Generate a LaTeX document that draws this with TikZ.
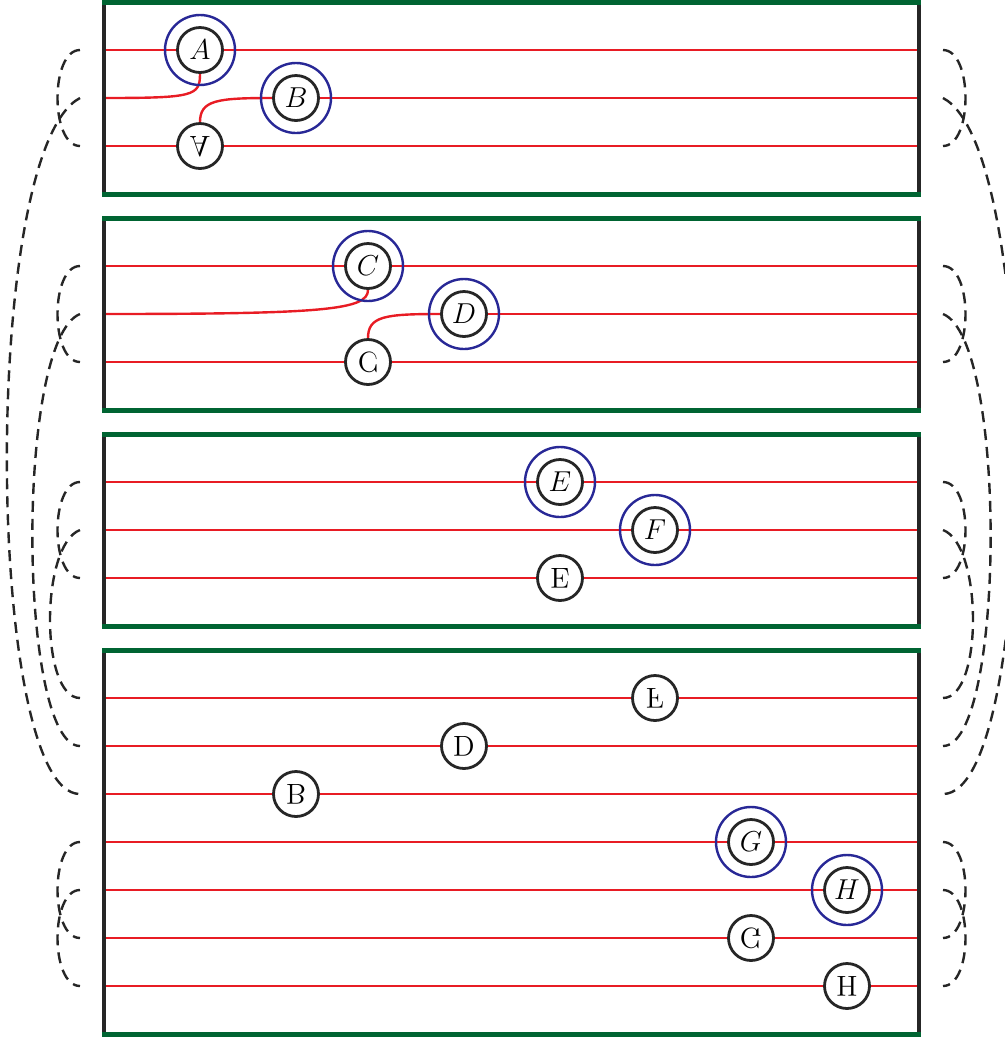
\documentclass[tikz,border=0pt]{standalone}
\usepackage{graphicx}
\usepackage{tikz}
\usetikzlibrary{backgrounds}

\definecolor{lanered}{RGB}{232,28,36}
\definecolor{rimgreen}{RGB}{0,100,50}
\definecolor{ringblue}{RGB}{40,40,150}

% lettera capovolta (coniugata)
\newcommand{\flipped}[1]{\scalebox{1}[-1]{$\mathrm{#1}$}}

\begin{document}
\begin{tikzpicture}[x=0.5pt, y=-0.5pt]

	\tikzset{
		lane/.style={
			lanered,
			line width=1.2pt
		},
		rim/.style={
			rimgreen,
			line width=2.5pt
		},
		side/.style={
			black!85,
			line width=1.6pt
		},
		closure/.style={
			black!85,
			line width=1.2pt,
			dash pattern=on 5.5pt off 3.5pt
		},
		qubit/.style={
			circle,
			draw=black!85,
			line width=1.4pt,
			fill=white,
			minimum size=22.5pt,
			inner sep=0pt,
			font=\fontsize{14.4}{17}\selectfont
		},
		ring/.style={
			circle,
			draw=ringblue,
			line width=1.2pt,
			minimum size=35pt,
			inner sep=0pt
		}
	}

	\useasboundingbox (0,0) rectangle (1005,1040);
	\clip (0,0) rectangle (1005,1040);

	% Estremi delle linee (ovest / est)
	\coordinate (w1)  at (104,50);  \coordinate (e1)  at (919,50);
	\coordinate (w2)  at (104,98);  \coordinate (e2)  at (919,98);
	\coordinate (w3)  at (104,146); \coordinate (e3)  at (919,146);
	\coordinate (w4)  at (104,266); \coordinate (e4)  at (919,266);
	\coordinate (w5)  at (104,314); \coordinate (e5)  at (919,314);
	\coordinate (w6)  at (104,362); \coordinate (e6)  at (919,362);
	\coordinate (w7)  at (104,482); \coordinate (e7)  at (919,482);
	\coordinate (w8)  at (104,530); \coordinate (e8)  at (919,530);
	\coordinate (w9)  at (104,578); \coordinate (e9)  at (919,578);
	\coordinate (w10) at (104,698); \coordinate (e10) at (919,698);
	\coordinate (w11) at (104,746); \coordinate (e11) at (919,746);
	\coordinate (w12) at (104,794); \coordinate (e12) at (919,794);
	\coordinate (w13) at (104,842); \coordinate (e13) at (919,842);
	\coordinate (w14) at (104,890); \coordinate (e14) at (919,890);
	\coordinate (w15) at (104,938); \coordinate (e15) at (919,938);
	\coordinate (w16) at (104,986); \coordinate (e16) at (919,986);

	% Pannelli
	\draw[side] (104,2) -- (104,194);   \draw[side] (919,2) -- (919,194);
	\draw[side] (104,218) -- (104,410); \draw[side] (919,218) -- (919,410);
	\draw[side] (104,434) -- (104,626); \draw[side] (919,434) -- (919,626);
	\draw[side] (104,650) -- (104,1034); \draw[side] (919,650) -- (919,1034);
	\draw[rim] (102,2) -- (921,2);     \draw[rim] (102,194) -- (921,194);
	\draw[rim] (102,218) -- (921,218); \draw[rim] (102,410) -- (921,410);
	\draw[rim] (102,434) -- (921,434); \draw[rim] (102,626) -- (921,626);
	\draw[rim] (102,650) -- (921,650); \draw[rim] (102,1034) -- (921,1034);

	% Pannello 1
	\node[qubit] (A)    at (200,50)  {$A$};
	\node[qubit] (B)    at (296,98)  {$B$};
	\node[qubit] (Abar) at (200,146) {\flipped{A}};
	\node[ring]  (Ar)   at (A) {};
	\node[ring]  (Br)   at (B) {};

	% Pannello 2
	\node[qubit] (C)    at (368,266) {$C$};
	\node[qubit] (D)    at (464,314) {$D$};
	\node[qubit] (Cbar) at (368,362) {\flipped{C}};
	\node[ring]  (Cr)   at (C) {};
	\node[ring]  (Dr)   at (D) {};

	% Pannello 3
	\node[qubit] (E)    at (560,482) {$E$};
	\node[qubit] (F)    at (655,530) {$F$};
	\node[qubit] (Ebar) at (560,578) {\flipped{E}};
	\node[ring]  (Er)   at (E) {};
	\node[ring]  (Fr)   at (F) {};

	% Pannello 4
	\node[qubit] (Fbar) at (655,698) {\flipped{F}};
	\node[qubit] (Dbar) at (464,746) {\flipped{D}};
	\node[qubit] (Bbar) at (296,794) {\flipped{B}};
	\node[qubit] (G)    at (751,842) {$G$};
	\node[qubit] (H)    at (847,890) {$H$};
	\node[qubit] (Gbar) at (751,938) {\flipped{G}};
	\node[qubit] (Hbar) at (847,986) {\flipped{H}};
	\node[ring]  (Gr)   at (G) {};
	\node[ring]  (Hr)   at (H) {};

	% Linee rosse (sotto i nodi)
	\begin{scope}[on background layer]
		\draw[lane] (w1) -- (e1);
		\draw[lane] (w2) .. controls +(90,0) and +(0,22) .. (A.south);
		\draw[lane] (B.west) .. controls +(-55,0) and +(0,-22) .. (Abar.north);
		\draw[lane] (B) -- (e2);
		\draw[lane] (w3) -- (e3);

		\draw[lane] (w4) -- (e4);
		\draw[lane] (w5) .. controls +(220,0) and +(0,20) .. (C.south);
		\draw[lane] (D.west) .. controls +(-55,0) and +(0,-22) .. (Cbar.north);
		\draw[lane] (D) -- (e5);
		\draw[lane] (w6) -- (e6);

		\draw[lane] (w7) -- (e7);
		\draw[lane] (w8) -- (e8);
		\draw[lane] (w9) -- (e9);

		\draw[lane] (w10) -- (e10);
		\draw[lane] (w11) -- (e11);
		\draw[lane] (w12) -- (e12);
		\draw[lane] (w13) -- (e13);
		\draw[lane] (w14) -- (e14);
		\draw[lane] (w15) -- (e15);
		\draw[lane] (w16) -- (e16);
	\end{scope}

	% Chiusure tratteggiate a sinistra
	\draw[closure] ([xshift=-12pt]w1) .. controls +(-30,0) and +(-30,0) .. ([xshift=-12pt]w3);
	\draw[closure] ([xshift=-12pt]w4) .. controls +(-30,0) and +(-30,0) .. ([xshift=-12pt]w6);
	\draw[closure] ([xshift=-12pt]w7) .. controls +(-30,0) and +(-30,0) .. ([xshift=-12pt]w9);
	\draw[closure] ([xshift=-12pt]w13) .. controls +(-30,0) and +(-30,0) .. ([xshift=-12pt]w15);
	\draw[closure] ([xshift=-12pt]w14) .. controls +(-30,0) and +(-30,0) .. ([xshift=-12pt]w16);
	\draw[closure] ([xshift=-12pt]w2) .. controls +(-100,52) and +(-95,0) .. ([xshift=-12pt]w12);
	\draw[closure] ([xshift=-12pt]w5) .. controls +(-65,26) and +(-62,0) .. ([xshift=-12pt]w11);
	\draw[closure] ([xshift=-12pt]w8) .. controls +(-40,15) and +(-40,0) .. ([xshift=-12pt]w10);

	% Chiusure tratteggiate a destra
	\draw[closure] ([xshift=12pt]e1) .. controls +(30,0) and +(30,0) .. ([xshift=12pt]e3);
	\draw[closure] ([xshift=12pt]e4) .. controls +(30,0) and +(30,0) .. ([xshift=12pt]e6);
	\draw[closure] ([xshift=12pt]e7) .. controls +(30,0) and +(30,0) .. ([xshift=12pt]e9);
	\draw[closure] ([xshift=12pt]e13) .. controls +(30,0) and +(30,0) .. ([xshift=12pt]e15);
	\draw[closure] ([xshift=12pt]e14) .. controls +(30,0) and +(30,0) .. ([xshift=12pt]e16);
	\draw[closure] ([xshift=12pt]e2) .. controls +(100,52) and +(95,0) .. ([xshift=12pt]e12);
	\draw[closure] ([xshift=12pt]e5) .. controls +(65,26) and +(62,0) .. ([xshift=12pt]e11);
	\draw[closure] ([xshift=12pt]e8) .. controls +(40,15) and +(40,0) .. ([xshift=12pt]e10);

\end{tikzpicture}
\end{document}
